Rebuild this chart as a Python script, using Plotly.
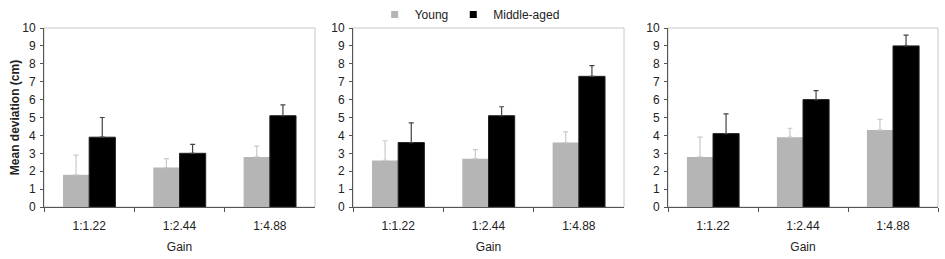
import plotly.graph_objects as go
from plotly.subplots import make_subplots

gains = ["1:1.22", "1:2.44", "1:4.88"]
young_p1 = [1.8, 2.2, 2.8]
young_p1_err = [1.1, 0.5, 0.6]
middle_p1 = [3.9, 3.0, 5.1]
middle_p1_err = [1.1, 0.5, 0.6]
young_p2 = [2.6, 2.7, 3.6]
young_p2_err = [1.1, 0.5, 0.6]
middle_p2 = [3.6, 5.1, 7.3]
middle_p2_err = [1.1, 0.5, 0.6]
young_p3 = [2.8, 3.9, 4.3]
young_p3_err = [1.1, 0.5, 0.6]
middle_p3 = [4.1, 6.0, 9.0]
middle_p3_err = [1.1, 0.5, 0.6]
y_ticks = list(range(0, 11))

panels = [
    (young_p1, young_p1_err, middle_p1, middle_p1_err),
    (young_p2, young_p2_err, middle_p2, middle_p2_err),
    (young_p3, young_p3_err, middle_p3, middle_p3_err),
]

W, H = 945, 259
FONT = "Liberation Sans, Arial, sans-serif"
YOUNG_C = "#b5b5b5"
MID_C = "#000000"
fig = make_subplots(rows=1, cols=3)

xdom = [(44, 315), (353, 624), (668, 938)]
ydom = ((H - 207) / H, (H - 28) / H)

for i, (yv, ye, mv, me) in enumerate(panels):
    col = i + 1
    fig.add_trace(go.Bar(
        x=gains, y=yv, name="Young", marker=dict(color=YOUNG_C, line=dict(width=0)),
        error_y=dict(type="data", array=ye, symmetric=False, arrayminus=[0]*3,
                     color="#c9c9c9", thickness=1.2, width=2.5),
        showlegend=False), row=1, col=col)
    fig.add_trace(go.Bar(
        x=gains, y=mv, name="Middle-aged", marker=dict(color=MID_C, line=dict(color="#222", width=1)),
        error_y=dict(type="data", array=me, symmetric=False, arrayminus=[0]*3,
                     color="#444444", thickness=1.2, width=2.5),
        showlegend=False), row=1, col=col)
    xa = "xaxis" if i == 0 else f"xaxis{col}"
    ya = "yaxis" if i == 0 else f"yaxis{col}"
    fig.layout[xa].update(
        domain=[xdom[i][0] / W, xdom[i][1] / W], type="category", automargin=False,
        range=[-0.5, 2.5], showline=True, linecolor="#555", linewidth=1,
        ticks="outside", tickson="boundaries", ticklen=4, tickcolor="#555",
        showgrid=False, tickfont=dict(family=FONT, size=12, color="#222"),
        ticklabelstandoff=8,
        title=dict(text="Gain", font=dict(family=FONT, size=12, color="#222"), standoff=10),
    )
    fig.layout[ya].update(
        domain=list(ydom), range=[0, 10], tickvals=y_ticks, showline=True, automargin=False,
        linecolor="#555", linewidth=1, ticks="outside", ticklen=3, tickcolor="#555",
        showgrid=False, zeroline=False, tickfont=dict(family=FONT, size=12, color="#222"),
        ticklabelstandoff=2,
    )
    fig.add_shape(type="rect", xref=f"x{'' if i == 0 else col} domain",
                  yref=f"y{'' if i == 0 else col} domain",
                  x0=0, x1=1, y0=0, y1=1, line=dict(color="#c8c8c8", width=1),
                  layer="below")

# legend entries (small square keys)
fig.add_trace(go.Scatter(x=[None], y=[None], mode="markers", name="Young",
                         marker=dict(symbol="square", size=7, color=YOUNG_C)), row=1, col=2)
fig.add_trace(go.Scatter(x=[None], y=[None], mode="markers", name="Middle-aged",
                         marker=dict(symbol="square", size=7, color=MID_C)), row=1, col=2)

fig.layout.yaxis.title = dict(text="<b>Mean deviation (cm)</b>",
                              font=dict(family=FONT, size=12, color="#222"), standoff=0)

fig.update_layout(
    width=W, height=H, margin=dict(l=0, r=0, t=0, b=0, autoexpand=False),
    paper_bgcolor="white", plot_bgcolor="white",
    barmode="group", bargap=0.42, bargroupgap=0,
    font=dict(family=FONT, size=12, color="#222"),
    legend=dict(orientation="h", xref="container", yref="container",
                x=0.497, xanchor="center", y=1.0, yanchor="top",
                font=dict(family=FONT, size=12, color="#222"),
                itemwidth=30, tracegroupgap=0, bgcolor="rgba(0,0,0,0)"),
)

fig.write_html("out.html", config={"displayModeBar": False},
               post_script="document.body.style.margin='0';document.body.style.overflow='hidden';")
